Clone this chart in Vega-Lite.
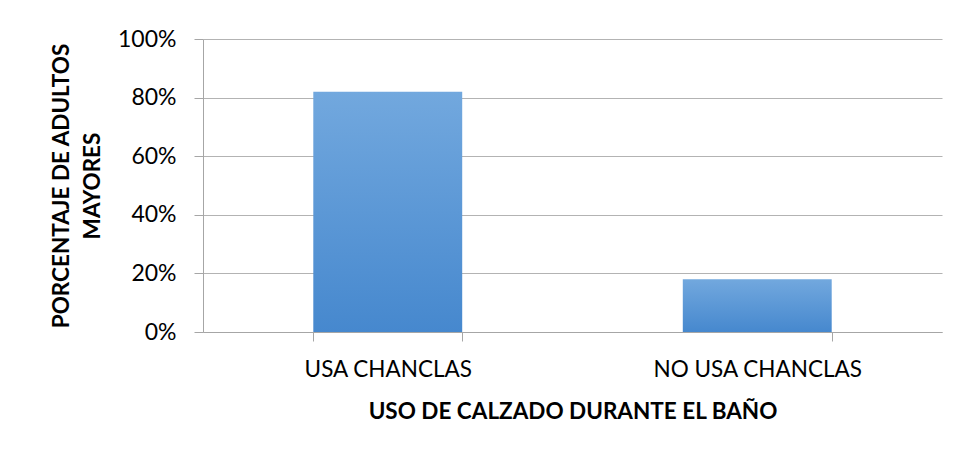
{
  "$schema": "https://vega.github.io/schema/vega-lite/v6.json",
  "width": 739,
  "height": 293,
  "autosize": {"type": "none"},
  "padding": {"left": 203, "top": 39, "right": 19, "bottom": 118},
  "background": "white",
  "data": {"values": [
    {"uso": "USA CHANCLAS", "pct": 0.82},
    {"uso": "NO USA CHANCLAS", "pct": 0.18}
  ]},
  "mark": {
    "type": "bar",
    "color": {"gradient": "linear", "x1": 0, "y1": 0, "x2": 0, "y2": 1,
      "stops": [{"offset": 0, "color": "#72a8de"}, {"offset": 1, "color": "#4688ce"}]}
  },
  "encoding": {
    "x": {
      "field": "uso", "type": "nominal", "sort": null,
      "scale": {"paddingInner": 0.597, "paddingOuter": 0.2985},
      "axis": {
        "title": "USO DE CALZADO DURANTE EL BAÑO",
        "labelAngle": 0,
        "labelLimit": 0,
        "tickBand": "extent",
        "tickSize": 9,
        "tickColor": "#a6a6a6",
        "domainColor": "#a6a6a6",
        "labelFont": "Lato", "labelFontSize": 22.5, "labelColor": "#000000",
        "labelPadding": 17,
        "titleFont": "Lato", "titleFontSize": 22.5, "titleFontWeight": "bold", "titleColor": "#000000",
        "titlePadding": 20
      }
    },
    "y": {
      "field": "pct", "type": "quantitative",
      "scale": {"domain": [0, 1]},
      "axis": {
        "title": ["PORCENTAJE DE ADULTOS", "MAYORES"],
        "format": ".0%",
        "values": [0, 0.2, 0.4, 0.6, 0.8, 1],
        "grid": true, "gridColor": "#b3b3b3",
        "tickSize": 9, "tickColor": "#a6a6a6", "domainColor": "#a6a6a6",
        "labelFont": "Lato", "labelFontSize": 23, "labelColor": "#000000",
        "labelPadding": 18,
        "titleFont": "Lato", "titleFontSize": 22.5, "titleFontWeight": "bold", "titleColor": "#000000",
        "titleLineHeight": 31,
        "titlePadding": 13
      }
    }
  },
  "config": {"view": {"stroke": null}}
}
